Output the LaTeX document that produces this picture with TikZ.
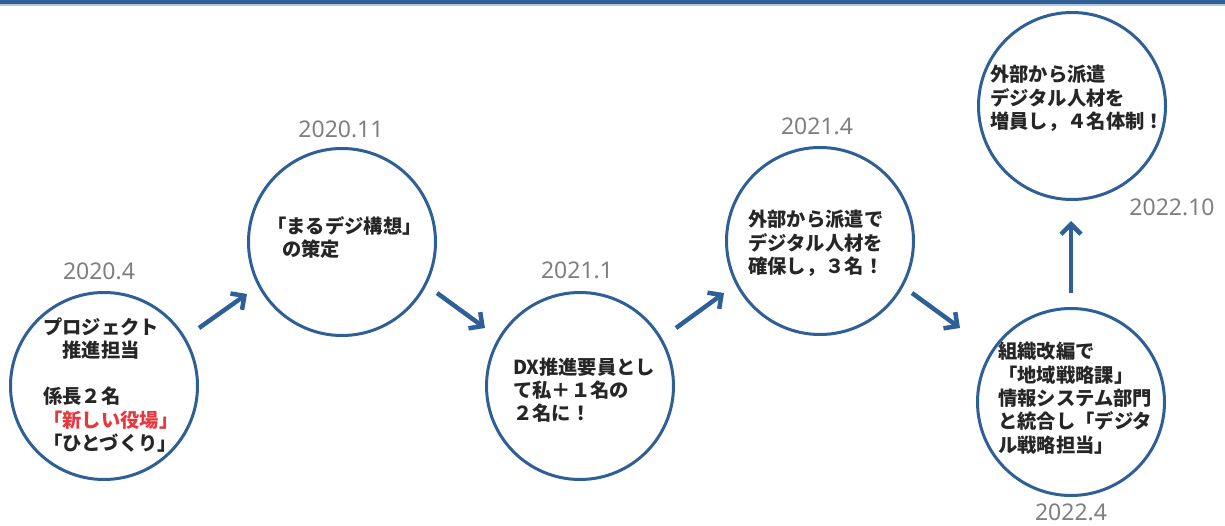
\documentclass[tikz,border=0pt]{standalone}
\usepackage{fontspec}
\newfontfamily\jp{Noto Sans CJK JP}
\newfontfamily\datefont{Noto Sans}
\usetikzlibrary{arrows.meta}
\definecolor{cblue}{HTML}{2F5F97}
\definecolor{dgray}{HTML}{7F7F7F}
\definecolor{cred}{HTML}{E8383D}
\definecolor{ctext}{HTML}{262626}
\begin{document}
\begin{tikzpicture}[x=1pt,y=-1pt,
  circ/.style={circle, draw=cblue, line width=3pt, minimum size=187pt, inner sep=0pt},
  arr/.style={draw=cblue, line width=4.5pt, -{Straight Barb[length=10pt,width=20pt]}},
  datelbl/.style={font=\datefont\fontsize{23}{27}\selectfont, text=dgray, inner sep=0pt},
  txt/.style={font=\jp\bfseries\fontsize{19.3}{23.3}\selectfont, text=ctext, align=left, anchor=base west, inner sep=0pt}]
\useasboundingbox (0,0) rectangle (1225,526);
% top bar
\fill[cblue] (0,0) rectangle (1225,4);
\fill[cblue!35] (0,4) rectangle (1225,6);

% circles
\node[circ] (c1) at (104,386) {};
\node[circ] (c2) at (342,242) {};
\node[circ] (c3) at (580,386) {};
\node[circ] (c4) at (820,241) {};
\node[circ] (c5) at (1071,402) {};
\node[circ] (c6) at (1072,106) {};

% dates
\node[datelbl] (d1) at (99,271) {2020.4};
\node[datelbl] (d2) at (341,129) {2020.11};
\node[datelbl] (d3) at (577,270) {2021.1};
\node[datelbl] (d4) at (817,126) {2021.4};
\node[datelbl] (d5) at (1071,512) {2022.4};
\node[datelbl] (d6) at (1172,207) {2022.10};

% texts (anchor = baseline of the last line)
\node[txt] (t1) at (43,450.5) {プロジェクト\\\hspace{19.3pt}推進担当\\[23.3pt]係長２名\\{\color{cred}「新しい役場」}\\「ひとづくり」};
\node[txt] (t2) at (267,257) {「まるデジ構想」\\\hspace{15pt}の策定};
\node[txt] (t3) at (513,420.6) {DX推進要員とし\\て私＋１名の\\２名に！};
\node[txt] (t4) at (748,273.6) {外部から派遣で\\デジタル人材を\\確保し，３名！};
\node[txt] (t5) at (998,452) {組織改編で\\「地域戦略課」\\情報システム部門\\と統合し「デジタ\\ル戦略担当」};
\node[txt] (t6) at (990,128.6) {外部から派遣\\デジタル人材を\\増員し，４名体制！};

% arrow end points
\coordinate (a1s) at (199,328); \coordinate (a1e) at (247,294);
\coordinate (a2s) at (437,293); \coordinate (a2e) at (485,328);
\coordinate (a3s) at (676,328); \coordinate (a3e) at (724,293);
\coordinate (a4s) at (912,293); \coordinate (a4e) at (960,328);
\coordinate (a5s) at (1071,293); \coordinate (a5e) at (1071,221);
\draw[arr] (a1s) -- (a1e);
\draw[arr] (a2s) -- (a2e);
\draw[arr] (a3s) -- (a3e);
\draw[arr] (a4s) -- (a4e);
\draw[arr] (a5s) -- (a5e);
\end{tikzpicture}
\end{document}
